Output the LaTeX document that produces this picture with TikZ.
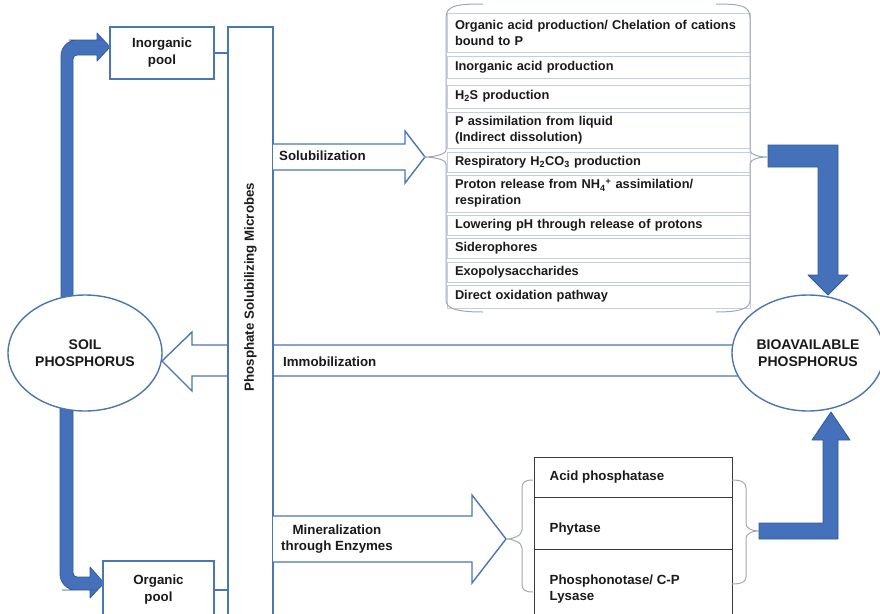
\documentclass[tikz,border=0pt]{standalone}
\usepackage{fontspec}
\setmainfont{Liberation Sans}
\usetikzlibrary{shapes.geometric,calc}
\definecolor{ln}{HTML}{4A76B2}
\definecolor{af}{HTML}{4471B9}
\definecolor{ad}{HTML}{2F5A9A}
\definecolor{rowc}{HTML}{C4CEDF}
\definecolor{brc}{HTML}{A0A8B4}
\definecolor{txc}{HTML}{1A1A1A}
\definecolor{ebox}{HTML}{3A3A3A}
\begin{document}
\begin{tikzpicture}[x=1pt,y=-1pt,
  bline/.style={draw=ln,line width=1.4pt},
  hollow/.style={draw=ln,line width=1.4pt,fill=white,line join=miter},
  thickarrow/.style={fill=af,draw=ad,line width=0.8pt,line join=round},
  lbl/.style={font=\fontsize{13.3}{16}\selectfont\bfseries,text=txc,inner sep=0pt},
  ell/.style={ellipse,draw=ln,line width=1.4pt,fill=white,inner sep=0pt,align=center,
    font=\fontsize{14}{17}\selectfont\bfseries,text=txc},
  poolbox/.style={rectangle,draw=ln,line width=1.4pt,fill=white,inner sep=0pt,align=center,
    font=\fontsize{13.3}{17}\selectfont\bfseries,text=txc},
  listrow/.style={rectangle,draw=rowc,line width=0.9pt,minimum width=303pt,text width=287pt,
    inner xsep=8pt,inner ysep=0pt,align=left,font=\fontsize{12.8}{16}\selectfont\bfseries,text=txc},
  erow/.style={rectangle,draw=ebox,line width=1pt,minimum width=198pt,inner sep=0pt},
  brace/.style={draw=brc,line width=1pt}
]
\useasboundingbox (0,0) rectangle (880,613);

% immobilization hollow arrow (under bar and ellipses)
\coordinate (imtip) at (162,361);
\draw[hollow] (765,345) -- (192,345) -- (192,332) -- (imtip) -- (192,391) -- (192,376) -- (765,376);

% thick arrows from soil to pools
\filldraw[thickarrow] (61,300) -- (61,62) [rounded corners=16pt] -- (61,40) -- (85,40) [sharp corners]
  -- (97,40) -- (97,33) -- (110,47) -- (97,61) -- (97,55) -- (80,55) [rounded corners=4pt]
  -- (73,55) -- (73,62) [sharp corners] -- (73,300) -- cycle;
\filldraw[thickarrow] (60,405) -- (60,570) [rounded corners=16pt] -- (60,590) -- (78,590) [sharp corners]
  -- (90,590) -- (90,598) -- (104,583) -- (90,567) -- (90,577) -- (80,577) [rounded corners=4pt]
  -- (73,577) -- (73,570) [sharp corners] -- (73,405) -- cycle;

% ellipses
\node[ell,minimum width=154pt,minimum height=116pt] (soil) at (85,353) {SOIL\\PHOSPHORUS};
\node[ell,minimum width=152pt,minimum height=116pt] (bio) at (808,353) {BIOAVAILABLE\\PHOSPHORUS};

% PSM bar
\node[rectangle,draw=ln,line width=1.4pt,fill=white,minimum width=45pt,minimum height=610pt,inner sep=0pt] (psm) at (250.5,332) {};
\node[lbl,rotate=90] (psmlbl) at (250.5,287) {Phosphate Solubilizing Microbes};

% pools
\node[poolbox,minimum width=104pt,minimum height=52pt] (inorg) at (162,53) {Inorganic\\pool};
\node[poolbox,minimum width=111pt,minimum height=58pt] (org) at (158.5,590) {Organic\\pool};
\draw[bline] (inorg.east) -- (inorg.east -| psm.west);
\draw[bline] (org.east) -- (org.east -| psm.west);

% solubilization and mineralization arrows
\draw[hollow] (273,144) -- (405,144) -- (405,131) -- (425,157) -- (405,183) -- (405,170) -- (273,170);
\draw[hollow] (273,516) -- (472,516) -- (472,495) -- (506,539) -- (472,583) -- (472,562) -- (273,562);

\node[lbl,anchor=west] (sol) at (279,156) {Solubilization};
\node[lbl,anchor=west] (imm) at (283,362) {Immobilization};
\node[lbl,align=center] (min) at (337,539) {Mineralization\\through Enzymes};

% solubilization list
\node[listrow,minimum height=39pt] (r1) at (598.5,32.5) {Organic acid production/ Chelation of cations\\bound to P};
\node[listrow,minimum height=22pt] (r2) at (598.5,67) {Inorganic acid production};
\node[listrow,minimum height=23pt] (r3) at (598.5,96.5) {H\textsubscript{2}S production};
\node[listrow,minimum height=36pt] (r4) at (598.5,130) {P assimilation from liquid\\(Indirect dissolution)};
\node[listrow,minimum height=20pt] (r5) at (598.5,162) {Respiratory H\textsubscript{2}CO\textsubscript{3} production};
\node[listrow,minimum height=37pt] (r6) at (598.5,193.5) {Proton release from NH\textsubscript{4}\textsuperscript{+} assimilation/\\respiration};
\node[listrow,minimum height=20pt] (r7) at (598.5,225) {Lowering pH through release of protons};
\node[listrow,minimum height=20pt] (r8) at (598.5,248) {Siderophores};
\node[listrow,minimum height=20pt] (r9) at (598.5,272) {Exopolysaccharides};
\node[listrow,minimum height=23pt] (r10) at (598.5,296.5) {Direct oxidation pathway};

\draw[brace] (483,4) .. controls (455,4) and (446,6) .. (446,18) -- (446,150)
  .. controls (446,155) and (432,157) .. (424,157) .. controls (432,157) and (446,159) .. (446,164)
  -- (446,300) .. controls (446,308) and (455,312) .. (483,312);
\draw[brace] (716,4) .. controls (742,4) and (750,6) .. (750,18) -- (750,150)
  .. controls (750,155) and (760,157) .. (767,157) .. controls (760,157) and (750,159) .. (750,164)
  -- (750,300) .. controls (750,308) and (742,312) .. (716,312);

% enzyme box
\node[erow,minimum height=40pt] (e1) at (633,477) {};
\node[erow,minimum height=52pt] (e2) at (633,523) {};
\node[erow,minimum height=81pt] (e3) at (633,589.5) {};
\node[lbl,anchor=west] (t1) at ([xshift=16pt]e1.west) {Acid phosphatase};
\node[lbl,anchor=west] (t2) at ([xshift=16pt,yshift=-6pt]e2.west) {Phytase};
\node[lbl,anchor=west,align=left] (t3) at ([xshift=16pt]e3.west) {Phosphonotase/ C-P\\Lysase};

\draw[brace] (533,480) .. controls (525,480) and (522,482) .. (522,488) -- (522,530)
  .. controls (522,536) and (512,539) .. (507,539) .. controls (512,539) and (522,542) .. (522,548)
  -- (522,584) .. controls (522,590) and (525,592) .. (533,592);
\draw[brace] (732,480) .. controls (741,480) and (746,482) .. (746,488) -- (746,524)
  .. controls (746,528) and (752,531) .. (758,531) .. controls (752,531) and (746,534) .. (746,538)
  -- (746,577) .. controls (746,582) and (741,584) .. (732,584);

% thick arrows to bioavailable
\filldraw[thickarrow] (768,145) -- (838,145) -- (838,275) -- (848,275) -- (828,295) -- (808,275)
  -- (818,275) -- (818,167) -- (768,167) -- cycle;
\filldraw[thickarrow] (759,523) -- (823,523) -- (823,440) -- (812,440) -- (831,412) -- (850,440)
  -- (838,440) -- (838,539) -- (759,539) -- cycle;
\end{tikzpicture}
\end{document}
